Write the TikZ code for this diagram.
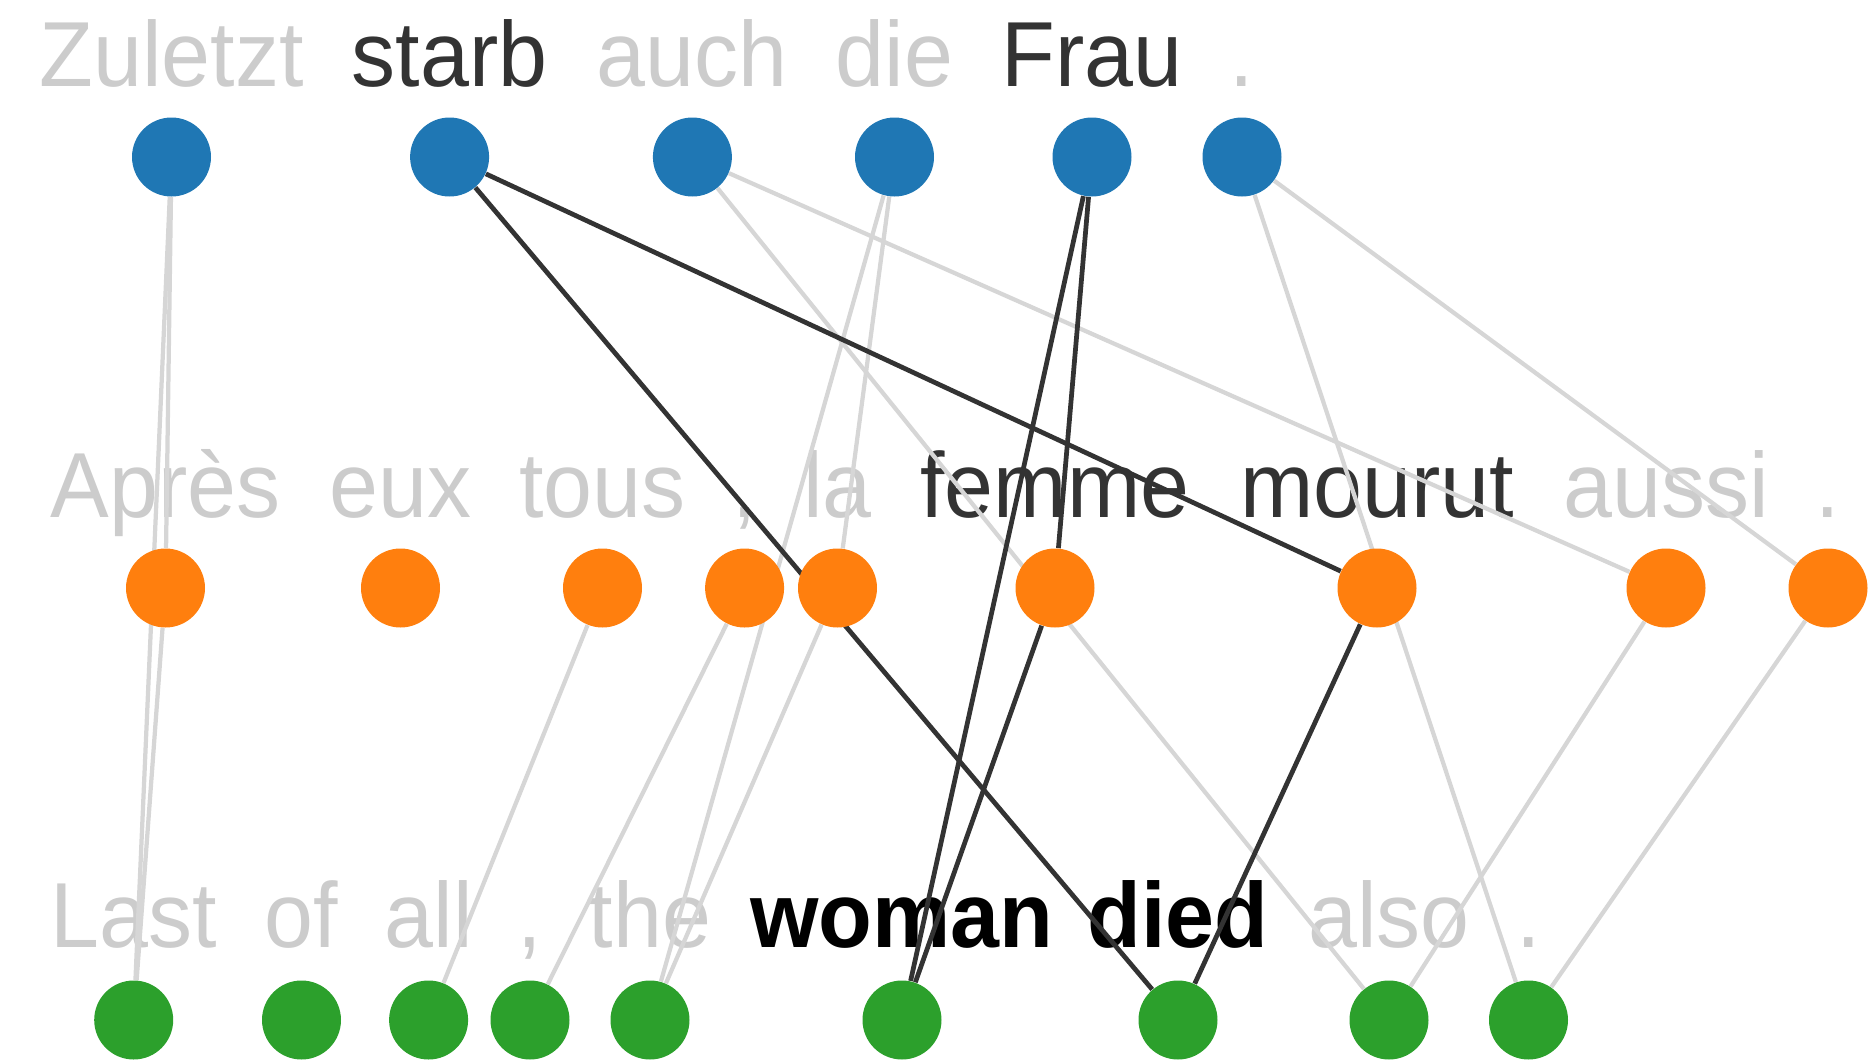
\documentclass[tikz,border=0pt]{standalone}
\usepackage{fontspec}
\setmainfont{Liberation Sans}
\definecolor{tblue}{HTML}{1F77B4}
\definecolor{torange}{HTML}{FF7F0E}
\definecolor{tgreen}{HTML}{2CA02C}
\definecolor{wgrey}{HTML}{CCCCCC}
\definecolor{wdark}{HTML}{333333}
\definecolor{lgrey}{HTML}{D6D6D6}
\definecolor{ldark}{HTML}{333333}
\newcommand{\tallw}[1]{\scalebox{1}[1.05]{#1}}
\pgfdeclarelayer{words}
\pgfdeclarelayer{edges}
\pgfsetlayers{words,edges,main}
\begin{document}
\begin{tikzpicture}[x=0.4pt,y=-0.4pt,
  dot/.style={circle,inner sep=0pt,minimum size=31.6pt},
  bdot/.style={dot,fill=tblue},
  odot/.style={dot,fill=torange},
  gdot/.style={dot,fill=tgreen},
  word/.style={anchor=base,inner sep=0pt,font=\fontsize{35.2pt}{40pt}\selectfont},
  faint/.style={word,text=wgrey},
  strong/.style={word,text=wdark},
  boldw/.style={word,text=black,font=\fontsize{35.2pt}{40pt}\selectfont\bfseries},
  weak/.style={draw=lgrey,line width=1.7pt},
  link/.style={draw=ldark,line width=1.9pt}]
\useasboundingbox (0,0) rectangle (1875,1060);
% circles
\node[bdot] (b1) at (171.5,157) {};
\node[bdot] (b2) at (449.6,157) {};
\node[bdot] (b3) at (692.4,157) {};
\node[bdot] (b4) at (894.5,157) {};
\node[bdot] (b5) at (1092,157) {};
\node[bdot] (b6) at (1242,157) {};
\node[odot] (o1) at (165.5,588) {};
\node[odot] (o2) at (400.5,588) {};
\node[odot] (o3) at (602.5,588) {};
\node[odot] (o4) at (744.6,588) {};
\node[odot] (o5) at (837.5,588) {};
\node[odot] (o6) at (1055,588) {};
\node[odot] (o7) at (1377,588) {};
\node[odot] (o8) at (1666,588) {};
\node[odot] (o9) at (1828,588) {};
\node[gdot] (g1) at (133.7,1020) {};
\node[gdot] (g2) at (301.5,1020) {};
\node[gdot] (g3) at (428.6,1020) {};
\node[gdot] (g4) at (530,1020) {};
\node[gdot] (g5) at (650,1020) {};
\node[gdot] (g6) at (902,1020) {};
\node[gdot] (g7) at (1178,1020) {};
\node[gdot] (g8) at (1389,1020) {};
\node[gdot] (g9) at (1528.5,1020) {};
% words
\begin{pgfonlayer}{words}
\node[faint]  (wb1) at (171.5,86) {\tallw{Zuletzt}};
\node[strong] (wb2) at (449.6,86) {\tallw{starb}};
\node[faint]  (wb3) at (692.4,86) {\tallw{auch}};
\node[faint]  (wb4) at (894.5,86) {\tallw{die}};
\node[strong] (wb5) at (1092,86) {\tallw{Frau}};
\node[faint]  (wb6) at (1242,86) {\tallw{.}};
\node[faint]  (wo1) at (165.5,517) {\tallw{Après}};
\node[faint]  (wo2) at (400.5,517) {\tallw{eux}};
\node[faint]  (wo3) at (602.5,517) {\tallw{tous}};
\node[faint]  (wo4) at (744.6,517) {\tallw{,}};
\node[faint]  (wo5) at (837.5,517) {\tallw{la}};
\node[strong] (wo6) at (1055,517) {\tallw{femme}};
\node[strong] (wo7) at (1377,517) {\tallw{mourut}};
\node[faint]  (wo8) at (1666,517) {\tallw{aussi}};
\node[faint]  (wo9) at (1828,517) {\tallw{.}};
\node[faint]  (wg1) at (133.7,947) {\tallw{Last}};
\node[faint]  (wg2) at (301.5,947) {\tallw{of}};
\node[faint]  (wg3) at (428.6,947) {\tallw{all}};
\node[faint]  (wg4) at (530,947) {\tallw{,}};
\node[faint]  (wg5) at (650,947) {\tallw{the}};
\node[boldw]  (wg6) at (902,947) {\tallw{woman}};
\node[boldw]  (wg7) at (1178,947) {\tallw{died}};
\node[faint]  (wg8) at (1389,947) {\tallw{also}};
\node[faint]  (wg9) at (1528.5,947) {\tallw{.}};
\end{pgfonlayer}
% connectors
\begin{pgfonlayer}{edges}
\draw[weak] (b1) -- (o1);
\draw[weak] (b1) -- (g1);
\draw[weak] (o1) -- (g1);
\draw[weak] (b3) -- (o8);
\draw[weak] (b3) -- (g8);
\draw[weak] (o8) -- (g8);
\draw[weak] (b4) -- (o5);
\draw[weak] (b4) -- (g5);
\draw[weak] (o5) -- (g5);
\draw[weak] (o3) -- (g3);
\draw[weak] (o4) -- (g4);
\draw[weak] (b6) -- (o9);
\draw[weak] (b6) -- (g9);
\draw[weak] (o9) -- (g9);
\draw[link] (b2) -- (o7);
\draw[link] (b2) -- (g7);
\draw[link] (o7) -- (g7);
\draw[link] (b5) -- (o6);
\draw[link] (b5) -- (g6);
\draw[link] (o6) -- (g6);
\end{pgfonlayer}
\end{tikzpicture}
\end{document}
